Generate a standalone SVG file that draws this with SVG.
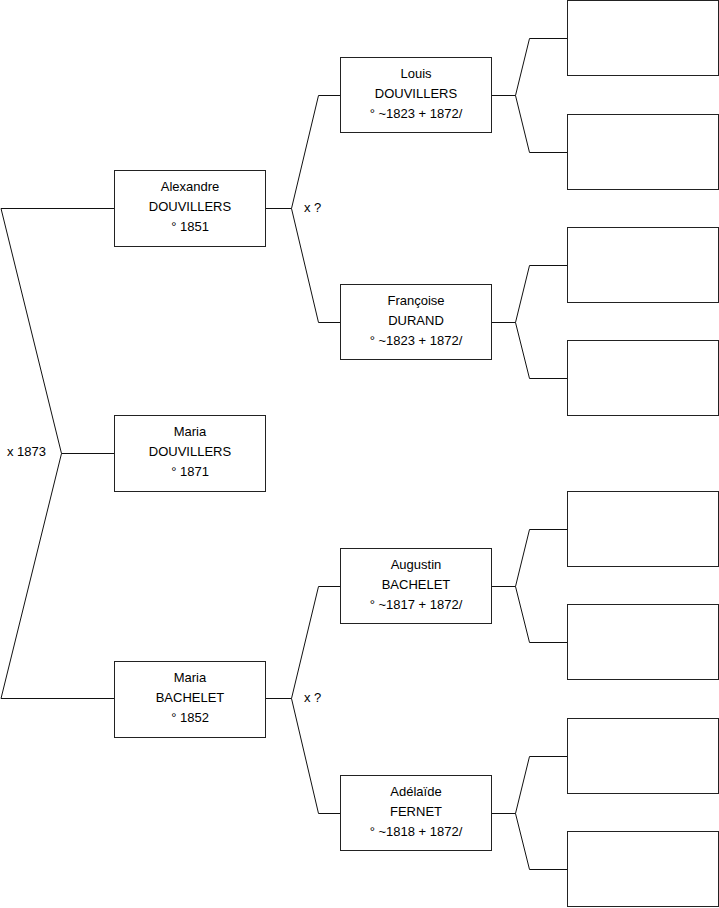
<svg xmlns="http://www.w3.org/2000/svg" width="719" height="908" viewBox="0 0 719 908">
<style>
.box{fill:#fff;stroke:#222;stroke-width:1}
.c{fill:none;stroke:#111;stroke-width:1}
text{font-family:"Liberation Sans",Arial,sans-serif;font-size:13px;fill:#000}
.m{text-anchor:middle}
</style>
<rect width="719" height="908" fill="#fff"/>
<g id="connectors">
<polyline class="c" points="114,208.5 1,208.5 61.5,453.5 1,698.5 114,698.5"/>
<line class="c" x1="61.5" y1="453.5" x2="114" y2="453.5"/>
<polyline class="c" points="341,95.5 318.5,95.5 291.5,208.5 318.5,322.5 341,322.5"/>
<line class="c" x1="265" y1="208.5" x2="291.5" y2="208.5"/>
<polyline class="c" points="341,586.5 318.5,586.5 291.5,698.5 318.5,813.5 341,813.5"/>
<line class="c" x1="265" y1="698.5" x2="291.5" y2="698.5"/>
<polyline class="c" points="567,38.5 529.5,38.5 515.5,95.5 529.5,152.5 567,152.5"/>
<line class="c" x1="492" y1="95.5" x2="515.5" y2="95.5"/>
<polyline class="c" points="567,265.5 529.5,265.5 515.5,322.5 529.5,378.5 567,378.5"/>
<line class="c" x1="492" y1="322.5" x2="515.5" y2="322.5"/>
<polyline class="c" points="567,529.5 529.5,529.5 515.5,586.5 529.5,642.5 567,642.5"/>
<line class="c" x1="492" y1="586.5" x2="515.5" y2="586.5"/>
<polyline class="c" points="567,756.5 529.5,756.5 515.5,813.5 529.5,869.5 567,869.5"/>
<line class="c" x1="492" y1="813.5" x2="515.5" y2="813.5"/>
<text x="7" y="456">x 1873</text>
<text x="304" y="212">x ?</text>
<text x="304" y="702">x ?</text>
</g>
<g id="alexandre">
<rect class="box" x="114.5" y="170.5" width="151" height="76"/>
<text class="m" x="190" y="191">Alexandre</text>
<text class="m" x="190" y="211">DOUVILLERS</text>
<text class="m" x="190" y="231">° 1851</text>
</g>
<g id="maria-douvillers">
<rect class="box" x="114.5" y="415.5" width="151" height="76"/>
<text class="m" x="190" y="436">Maria</text>
<text class="m" x="190" y="456">DOUVILLERS</text>
<text class="m" x="190" y="476">° 1871</text>
</g>
<g id="maria-bachelet">
<rect class="box" x="114.5" y="661.5" width="151" height="76"/>
<text class="m" x="190" y="682">Maria</text>
<text class="m" x="190" y="702">BACHELET</text>
<text class="m" x="190" y="722">° 1852</text>
</g>
<g id="louis">
<rect class="box" x="340.5" y="57.5" width="151" height="75"/>
<text class="m" x="416" y="78">Louis</text>
<text class="m" x="416" y="98">DOUVILLERS</text>
<text class="m" x="416" y="118">° ~1823 + 1872/</text>
</g>
<g id="francoise">
<rect class="box" x="340.5" y="284.5" width="151" height="75"/>
<text class="m" x="416" y="305">Françoise</text>
<text class="m" x="416" y="325">DURAND</text>
<text class="m" x="416" y="345">° ~1823 + 1872/</text>
</g>
<g id="augustin">
<rect class="box" x="340.5" y="548.5" width="151" height="75"/>
<text class="m" x="416" y="569">Augustin</text>
<text class="m" x="416" y="589">BACHELET</text>
<text class="m" x="416" y="609">° ~1817 + 1872/</text>
</g>
<g id="adelaide">
<rect class="box" x="340.5" y="775.5" width="151" height="75"/>
<text class="m" x="416" y="796">Adélaïde</text>
<text class="m" x="416" y="816">FERNET</text>
<text class="m" x="416" y="836">° ~1818 + 1872/</text>
</g>
<g id="g3-1"><rect class="box" x="567.5" y="0.5" width="151" height="75"/></g>
<g id="g3-2"><rect class="box" x="567.5" y="114.5" width="151" height="75"/></g>
<g id="g3-3"><rect class="box" x="567.5" y="227.5" width="151" height="75"/></g>
<g id="g3-4"><rect class="box" x="567.5" y="340.5" width="151" height="75"/></g>
<g id="g3-5"><rect class="box" x="567.5" y="491.5" width="151" height="75"/></g>
<g id="g3-6"><rect class="box" x="567.5" y="604.5" width="151" height="75"/></g>
<g id="g3-7"><rect class="box" x="567.5" y="718.5" width="151" height="75"/></g>
<g id="g3-8"><rect class="box" x="567.5" y="831.5" width="151" height="75"/></g>
</svg>
